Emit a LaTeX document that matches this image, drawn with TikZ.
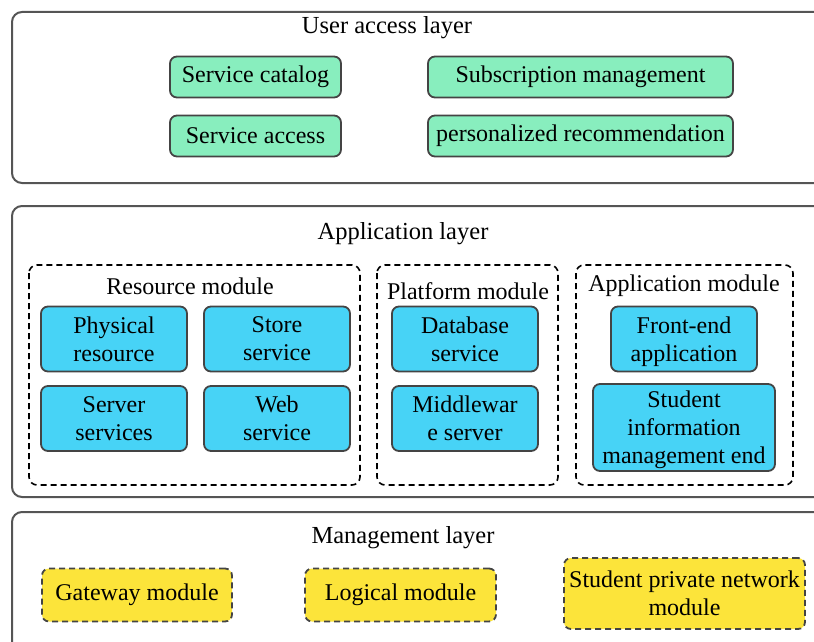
\documentclass[tikz,border=0pt]{standalone}
\usepackage{fontspec}
\setmainfont{Liberation Serif}
\definecolor{layerline}{HTML}{555555}
\definecolor{boxline}{HTML}{444444}
\definecolor{greenfill}{HTML}{88EEBE}
\definecolor{bluefill}{HTML}{47D3F6}
\definecolor{yellowfill}{HTML}{FCE43A}
\begin{document}
\begin{tikzpicture}[x=1pt,y=-1pt,
  layer/.style={draw=layerline,line width=2pt,rounded corners=10pt},
  module/.style={draw=black,line width=1.6pt,dashed,dash pattern=on 6pt off 4pt,rounded corners=8pt},
  title/.style={font=\fontsize{24.5}{28}\selectfont,inner sep=0pt},
  cell/.style={draw=boxline,line width=1.8pt,rounded corners=7pt,inner sep=0pt,
    font=\fontsize{24}{28}\selectfont,align=center},
  greencell/.style={cell,fill=greenfill},
  bluecell/.style={cell,fill=bluefill,text depth=0pt},
  yellowcell/.style={cell,fill=yellowfill,dashed,dash pattern=on 6pt off 4pt}]
\useasboundingbox (0,0) rectangle (814,642);
\clip (0,0) rectangle (814,642);

% three horizontal layers, running past the right edge
\draw[layer] (12,12) rectangle (840,183);
\draw[layer] (12,206) rectangle (840,497);
\draw[layer] (12,512) rectangle (840,670);

% user access layer
\node[title] (ua) at (387,28) {User access layer};
\node[greencell,minimum width=171pt,minimum height=41pt] (catalog) at (255.5,77) {Service catalog};
\node[greencell,minimum width=171pt,minimum height=41pt] (access) at (255.5,136) {Service access};
\node[greencell,minimum width=305pt,minimum height=41pt] (subs) at (580.5,77) {Subscription management};
\node[greencell,minimum width=305pt,minimum height=41pt] (recom) at (580.5,136) {personalized recommendation};

% application layer
\node[title] (app) at (403,234) {Application layer};
\draw[module] (29,265) rectangle (360,485);
\draw[module] (377,265) rectangle (558,485);
\draw[module] (576,265) rectangle (793,485);
\node[title,font=\fontsize{24}{28}\selectfont] (resm) at (190,286) {Resource module};
\node[title,font=\fontsize{24}{28}\selectfont] (platm) at (468,291) {Platform module};
\node[title,font=\fontsize{24}{28}\selectfont] (appm) at (684,286) {Application module};

\node[bluecell,minimum width=146pt,minimum height=65pt] (phys) at (114,339) {Physical\\resource};
\node[bluecell,minimum width=146pt,minimum height=65pt] (store) at (277,339) {Store\\service};
\node[bluecell,minimum width=146pt,minimum height=65pt] (server) at (114,418.5) {Server\\services};
\node[bluecell,minimum width=146pt,minimum height=65pt] (web) at (277,418.5) {Web\\service};
\node[bluecell,minimum width=146pt,minimum height=65pt] (db) at (465,339) {Database\\service};
\node[bluecell,minimum width=146pt,minimum height=65pt] (mid) at (465,418.5) {Middlewar\\e server};
\node[bluecell,minimum width=146pt,minimum height=65pt] (front) at (684,339) {Front-end\\application};
\node[bluecell,minimum width=182pt,minimum height=87pt] (student) at (684,427.5) {Student\\information\\management end};

% management layer
\node[title] (mg) at (403,538) {Management layer};
\node[yellowcell,minimum width=190pt,minimum height=53pt] (gate) at (137,595) {Gateway module};
\node[yellowcell,minimum width=191pt,minimum height=53pt] (logic) at (400.5,595) {Logical module};
\node[yellowcell,minimum width=241pt,minimum height=71pt] (priv) at (684.5,593.5) {Student private network\\module};
\end{tikzpicture}
\end{document}
